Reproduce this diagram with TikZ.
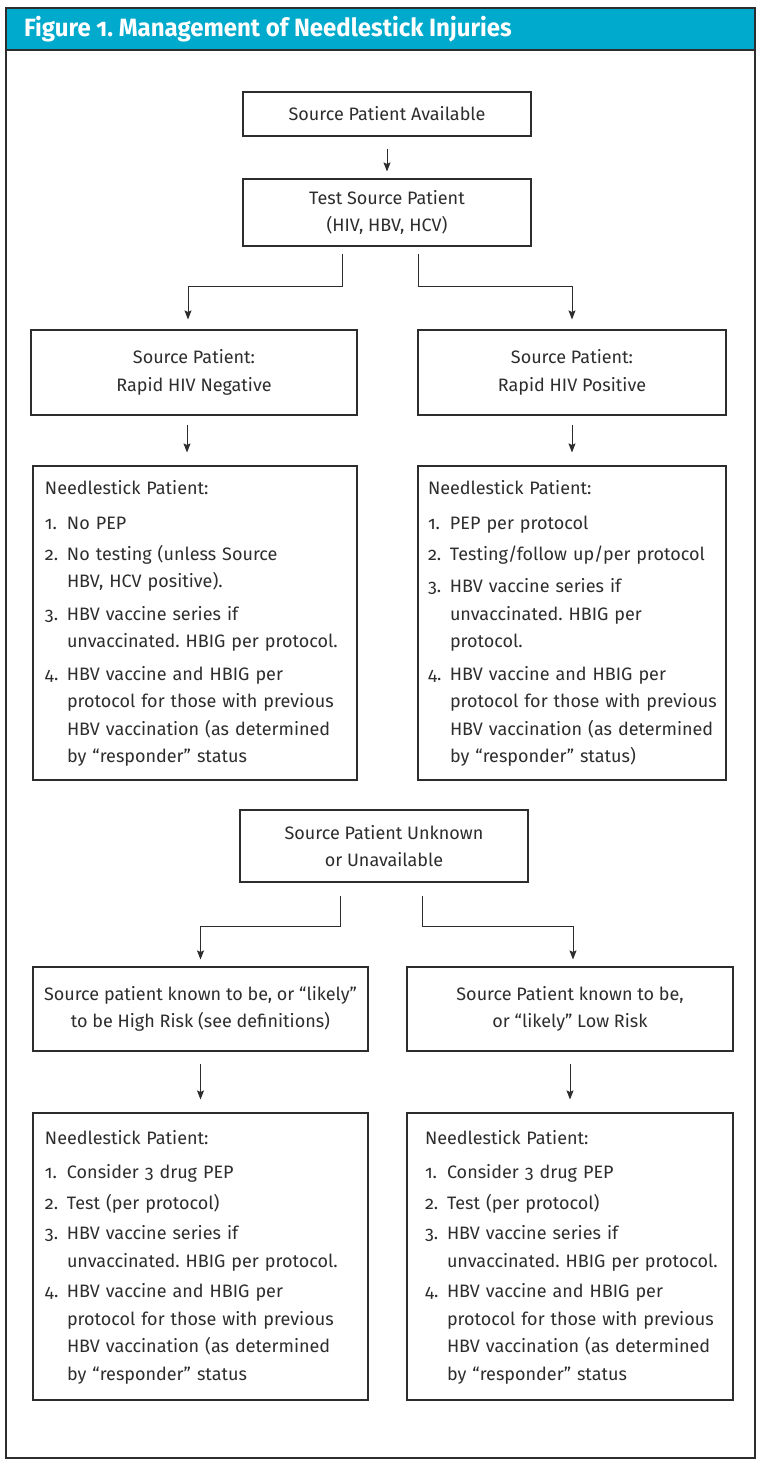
\documentclass[tikz,border=0pt]{standalone}
\usepackage{fontspec}
\setmainfont{Fira Sans}[Numbers=OldStyle]
\newfontfamily\titlefont{Fira Sans}[Numbers=OldStyle,FakeStretch=0.96]
\usetikzlibrary{arrows.meta}
\definecolor{figteal}{RGB}{0,170,205}
\definecolor{ink}{RGB}{45,45,45}
\frenchspacing
\newcommand{\steps}[1]{\begin{tabular}{@{}p{22pt}@{}l@{}}#1\end{tabular}}
\newcommand{\hdr}[1]{\multicolumn{2}{@{}l@{}}{#1}}
\tikzset{
  flowbox/.style={draw=ink, line width=1.1pt, text=ink, align=center, inner sep=0pt},
  listbox/.style={flowbox, align=left, inner ysep=0pt},
  arr/.style={draw=ink, line width=1pt, -{Stealth[length=9pt,width=7pt,inset=1.5pt]}}
}
\begin{document}
\begin{tikzpicture}[x=1pt,y=1pt,every node/.style={font=\fontsize{18}{27.5}\selectfont}]
\useasboundingbox (0,0) rectangle (756,-1460);
\fill[figteal] (6,-8) rectangle (755,-50);
\draw[ink, line width=1.4pt] (6,-8) rectangle (755,-1458);
\draw[ink, line width=1.2pt] (6,-50) -- (755,-50);
\node[anchor=west, text=white, inner sep=0pt, font=\titlefont\bfseries\fontsize{25}{30}\selectfont] (title) at (24,-29.5) {Figure 1. Management of Needlestick Injuries};

\node[flowbox, minimum width=288pt, minimum height=44pt] (avail) at (387,-114) {Source Patient Available};
\node[flowbox, minimum width=288pt, minimum height=67pt] (test) at (387,-212.5) {Test Source Patient\\(HIV, HBV, HCV)};
\node[flowbox, minimum width=326pt, minimum height=85pt] (neg) at (194,-372.5) {Source Patient:\\Rapid HIV Negative};
\node[flowbox, minimum width=308pt, minimum height=85pt] (pos) at (572,-372.5) {Source Patient:\\Rapid HIV Positive};

\node[listbox, inner xsep=12pt, text width=300pt, minimum height=314pt] (negplan) at (195,-623) {\steps{
  \hdr{Needlestick Patient:}\\[8pt]
  1. & No PEP\\[3pt]
  2. & No testing (unless Source\\
     & HBV, HCV positive).\\[5pt]
  3. & HBV vaccine series if\\
     & unvaccinated. HBIG per protocol.\\[5pt]
  4. & HBV vaccine and HBIG per\\
     & protocol for those with previous\\
     & HBV vaccination (as determined\\
     & by “responder” status}};
\node[listbox, inner xsep=10pt, text width=288pt, minimum height=314pt] (posplan) at (572,-623) {\steps{
  \hdr{Needlestick Patient:}\\[8pt]
  1. & PEP per protocol\\[3pt]
  2. & Testing/follow up/per protocol\\[5pt]
  3. & HBV vaccine series if\\
     & unvaccinated. HBIG per\\
     & protocol.\\[5pt]
  4. & HBV vaccine and HBIG per\\
     & protocol for those with previous\\
     & HBV vaccination (as determined\\
     & by “responder” status)}};

\node[flowbox, minimum width=288pt, minimum height=72pt] (unk) at (384,-846) {Source Patient Unknown\\or Unavailable};
\node[flowbox, minimum width=335pt, minimum height=84pt] (high) at (200.5,-1009) {Source patient known to be, or “likely”\\to be High Risk (see definitions)};
\node[flowbox, minimum width=326pt, minimum height=84pt] (low) at (570,-1009) {Source Patient known to be,\\or “likely” Low Risk};

\node[listbox, inner xsep=12pt, text width=311pt, minimum height=287pt] (highplan) at (200.5,-1256.5) {\steps{
  \hdr{Needlestick Patient:}\\[7pt]
  1. & Consider 3 drug PEP\\[3pt]
  2. & Test (per protocol)\\[3pt]
  3. & HBV vaccine series if\\
     & unvaccinated. HBIG per protocol.\\[3pt]
  4. & HBV vaccine and HBIG per\\
     & protocol for those with previous\\
     & HBV vaccination (as determined\\
     & by “responder” status}};
\node[listbox, inner xsep=18pt, text width=290pt, minimum height=287pt] (lowplan) at (570,-1256.5) {\steps{
  \hdr{Needlestick Patient:}\\[7pt]
  1. & Consider 3 drug PEP\\[3pt]
  2. & Test (per protocol)\\[3pt]
  3. & HBV vaccine series if\\
     & unvaccinated. HBIG per protocol.\\[3pt]
  4. & HBV vaccine and HBIG per\\
     & protocol for those with previous\\
     & HBV vaccination (as determined\\
     & by “responder” status}};

\draw[arr] ([yshift=-12pt]avail.south) -- ([yshift=7pt]test.north);
\draw[arr] ([xshift=-45pt,yshift=-7pt]test.south) -- ++(0,-33) -| ([xshift=-6pt,yshift=10pt]neg.north);
\draw[arr] ([xshift=31pt,yshift=-7pt]test.south) -- ++(0,-33) -| ([yshift=10pt]pos.north);
\draw[arr] ([xshift=-7pt,yshift=-9pt]neg.south) -- ([xshift=-8pt,yshift=13pt]negplan.north);
\draw[arr] ([yshift=-9pt]pos.south) -- ([yshift=13pt]posplan.north);
\draw[arr] ([xshift=-44pt,yshift=-13pt]unk.south) -- ++(0,-31) -| ([yshift=7pt]high.north);
\draw[arr] ([xshift=38pt,yshift=-13pt]unk.south) -- ++(0,-31) -| ([xshift=3pt,yshift=7pt]low.north);
\draw[arr] ([yshift=-12pt]high.south) -- ([yshift=13pt]highplan.north);
\draw[arr] ([yshift=-12pt]low.south) -- ([yshift=13pt]lowplan.north);
\end{tikzpicture}
\end{document}
